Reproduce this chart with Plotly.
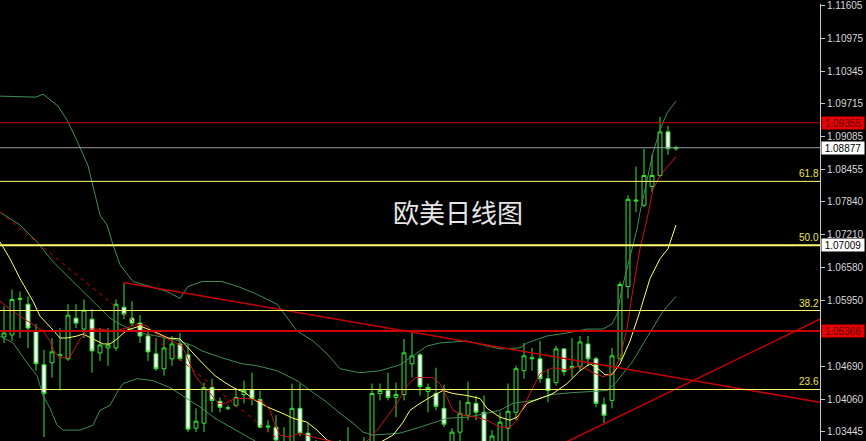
import plotly.graph_objects as go

# ---------------- data ----------------
bars = list(range(85))
opens = [1.05252, 1.05290, 1.05972, 1.05879, 1.05366, 1.04720, 1.04758, 1.04891, 1.04834, 1.05613,
         1.05404, 1.05594, 1.04948, 1.05043, 1.05043, 1.05822, 1.05613, 1.05518, 1.05271, 1.04929,
         1.04644, 1.04834, 1.05119, 1.04910, 1.03506, 1.03601, 1.04283, 1.04019, 1.03886, 1.03943,
         1.04150, 1.04245, 1.04055, 1.03525, 1.03525, 1.03240, 1.03183, 1.03886, 1.03411, 1.03088,
         1.02898, 1.02993, 1.03088, 1.03126, 1.03050, 1.03145, 1.03088, 1.04169, 1.04226, 1.04093,
         1.04150, 1.04739, 1.04910, 1.04207, 1.04169, 1.03886, 1.03183, 1.03430, 1.03753, 1.03981,
         1.03810, 1.03088, 1.03183, 1.03506, 1.03810, 1.04606, 1.04834, 1.04834, 1.04454, 1.04378,
         1.05024, 1.04663, 1.04682, 1.05119, 1.04834, 1.03962, 1.04038, 1.04834, 1.06219, 1.07853,
         1.07777, 1.08136, 1.08345, 1.09181, 1.08858]
highs = [1.05841, 1.06162, 1.06124, 1.06029, 1.05499, 1.05005, 1.05233, 1.05423, 1.05879, 1.05879,
         1.05972, 1.05784, 1.05423, 1.05423, 1.05972, 1.06276, 1.05936, 1.05670, 1.05366, 1.05233,
         1.05233, 1.05271, 1.05328, 1.05119, 1.03886, 1.04378, 1.04454, 1.04093, 1.03943, 1.04264,
         1.04416, 1.04568, 1.04226, 1.03658, 1.03753, 1.03525, 1.04359, 1.04359, 1.03601, 1.03278,
         1.03183, 1.03240, 1.03278, 1.03525, 1.03259, 1.03335, 1.04359, 1.04359, 1.04568, 1.04378,
         1.05214, 1.05328, 1.04948, 1.04359, 1.04663, 1.04340, 1.03506, 1.04038, 1.04397, 1.04131,
         1.04131, 1.03468, 1.03810, 1.04359, 1.04701, 1.05138, 1.05043, 1.05176, 1.04644, 1.05081,
         1.05043, 1.05233, 1.05271, 1.05271, 1.04872, 1.04093, 1.05043, 1.06314, 1.07965, 1.08516,
         1.08858, 1.08744, 1.09466, 1.09295, 1.08915]
lows = [1.05138, 1.05176, 1.05233, 1.05043, 1.04606, 1.03335, 1.04473, 1.04226, 1.04796, 1.05423,
        1.05233, 1.04568, 1.04796, 1.04701, 1.04986, 1.05594, 1.05461, 1.05138, 1.04796, 1.04606,
        1.04511, 1.04701, 1.04796, 1.03430, 1.03430, 1.03430, 1.03810, 1.03810, 1.03848, 1.03905,
        1.03981, 1.03943, 1.03506, 1.03430, 1.03183, 1.02898, 1.03088, 1.03354, 1.02993, 1.02803,
        1.02746, 1.02860, 1.02936, 1.02898, 1.02936, 1.02974, 1.02993, 1.04038, 1.04038, 1.03715,
        1.04038, 1.04473, 1.04131, 1.03810, 1.03848, 1.03525, 1.02993, 1.03259, 1.03658, 1.03658,
        1.03088, 1.02993, 1.03088, 1.03259, 1.03658, 1.04454, 1.04606, 1.04378, 1.04000, 1.04321,
        1.04511, 1.04473, 1.04606, 1.04701, 1.03905, 1.03601, 1.03886, 1.04796, 1.05991, 1.07644,
        1.07739, 1.08022, 1.08307, 1.08744, 1.08820]
closes = [1.05328, 1.05972, 1.05991, 1.05423, 1.04739, 1.04169, 1.04967, 1.04910, 1.05670, 1.05518,
          1.05765, 1.04986, 1.05100, 1.05100, 1.05879, 1.05689, 1.05518, 1.05271, 1.04967, 1.04644,
          1.05043, 1.05119, 1.04834, 1.03487, 1.03639, 1.04283, 1.04038, 1.03905, 1.03895, 1.04093,
          1.04226, 1.04074, 1.03525, 1.03544, 1.03278, 1.02993, 1.03886, 1.03411, 1.03126, 1.02898,
          1.02993, 1.03088, 1.03183, 1.03050, 1.03145, 1.03088, 1.04169, 1.04226, 1.04093, 1.04150,
          1.04948, 1.04891, 1.04302, 1.04283, 1.03924, 1.03582, 1.03430, 1.03791, 1.04000, 1.03810,
          1.03183, 1.03354, 1.03620, 1.03829, 1.04644, 1.04891, 1.04853, 1.04454, 1.04226, 1.05024,
          1.04587, 1.04682, 1.05157, 1.04834, 1.03981, 1.03753, 1.04891, 1.06257, 1.07889, 1.07872,
          1.08345, 1.08345, 1.09181, 1.08858, 1.08877]

# Bollinger bands (upper / middle / lower)
bb_up_x = [-0.5, 4, 4.88, 6.75, 7.88, 9.13, 10.5, 11.13, 12, 12.88, 13.63, 14.5, 16.13, 18.25, 20.38,
           22, 23, 24.75, 27.25, 29.25, 31.38, 34.13, 36.63, 38.63, 40.38, 42, 44.5, 47, 49.5, 51.13,
           52.88, 54.5, 57.88, 60.38, 62, 64.5, 65.38, 67.88, 70.38, 72.88, 74.88, 76, 76.63, 77.25,
           77.88, 78.5, 79.13, 79.5, 80.38, 81.13, 82, 82.88, 84]
bb_up_y = [1.09865, 1.09846, 1.09903, 1.09675, 1.09409, 1.09010, 1.08535, 1.08155, 1.07587, 1.07397,
           1.07017, 1.06637, 1.06314, 1.06219, 1.06124, 1.05991, 1.06219, 1.06314, 1.06314, 1.06219,
           1.06086, 1.05879, 1.05366, 1.05176, 1.04929, 1.04644, 1.04568, 1.04606, 1.04720, 1.04891,
           1.05081, 1.05138, 1.05176, 1.05081, 1.05024, 1.05043, 1.05138, 1.05271, 1.05328, 1.05404,
           1.05404, 1.05499, 1.05689, 1.06181, 1.06561, 1.06941, 1.07321, 1.07644, 1.08269, 1.08782,
           1.09219, 1.09542, 1.09770]
bb_mid_x = [-0.5, 2, 4.13, 6.13, 8, 9.88, 12, 13.25, 14.25, 15.75, 17, 19.13, 22, 23.63, 24.75,
            27.25, 29.75, 31.63, 34.13, 36.63, 38.63, 40.38, 42, 43.63, 44.88, 46.13, 49.5, 52,
            55.38, 57.88, 60.38, 62, 63.63, 66.13, 68.63, 71.13, 73.63, 75.38, 76.38, 77.38, 78.63,
            79.88, 81.13, 82.38, 84]
bb_mid_y = [1.07644, 1.07397, 1.07074, 1.06694, 1.06409, 1.06124, 1.05784, 1.05613, 1.05518, 1.05404,
            1.05328, 1.05271, 1.05176, 1.05081, 1.04986, 1.04853, 1.04739, 1.04701, 1.04606, 1.04416,
            1.04188, 1.04000, 1.03791, 1.03601, 1.03430, 1.03373, 1.03411, 1.03525, 1.03696, 1.03715,
            1.03791, 1.03848, 1.03981, 1.04038, 1.04152, 1.04188, 1.04209, 1.04228, 1.04359, 1.04549,
            1.04796, 1.05119, 1.05423, 1.05746, 1.06029]
bb_low_x = [-0.5, 1.13, 2.88, 4.13, 4.88, 5.75, 6.63, 7.38, 9.5, 11.13, 12, 13.25, 14.13, 14.88,
            16.63, 18.63, 20.75, 22.88, 24.75, 26.38, 28.5, 30.5, 32.25, 34.5]
bb_low_y = [1.05271, 1.05138, 1.04758, 1.04511, 1.04131, 1.03886, 1.03563, 1.03468, 1.03468, 1.03563,
            1.03848, 1.03943, 1.04188, 1.04359, 1.04454, 1.04416, 1.04283, 1.04074, 1.03886, 1.03696,
            1.03506, 1.03335, 1.03183, 1.02993]

# fast moving average (red)
ma_fast_x = [-0.5, 0.75, 2, 3.63, 4.88, 5.75, 6.38, 7.25, 8.25, 9.5, 10.75, 12, 13.63, 15.38, 16.63,
             17.88, 18.88, 20.5, 22.25, 23, 23.88, 24.88, 26, 26.75, 27.63, 28.88, 30.5, 32.25,
             33.25, 33.88, 34.5, 35.75, 37, 38.63, 40.75, 43.88, 45.38, 46.63, 47.88, 49.13, 50.38,
             51.38, 53.63, 54.5, 55.38, 56.13, 57.38, 59.13, 60.38, 62, 63.25, 64.13, 64.88, 66.13,
             67, 68.63, 70.38, 72, 73.63, 74.88, 76, 77, 77.88, 78.63, 79.5, 80.38, 81.13, 82, 82.88, 84]
ma_fast_y = [1.05936, 1.05784, 1.05651, 1.05499, 1.05366, 1.05176, 1.04948, 1.04853, 1.04872, 1.05214,
             1.05404, 1.05404, 1.05366, 1.05423, 1.05499, 1.05461, 1.05328, 1.05214, 1.05081, 1.04834,
             1.04511, 1.04321, 1.04131, 1.03981, 1.03981, 1.04076, 1.04076, 1.04019, 1.03848, 1.03563,
             1.03373, 1.03335, 1.03411, 1.03335, 1.03259, 1.03183, 1.03259, 1.03468, 1.03715, 1.03981,
             1.04321, 1.04473, 1.04473, 1.04359, 1.04093, 1.03848, 1.03753, 1.03715, 1.03658, 1.03525,
             1.03525, 1.03658, 1.03905, 1.04283, 1.04549, 1.04663, 1.04625, 1.04701, 1.04568, 1.04492,
             1.04549, 1.04853, 1.05423, 1.06181, 1.06941, 1.07511, 1.08079, 1.08345, 1.08497, 1.08706]

# slow moving average (yellow)
ma_slow_x = [-0.5, 0.75, 2, 2.88, 3.63, 4.5, 5.38, 6.13, 7, 7.88, 9.13, 9.88, 11.13, 12.38, 13.25,
             14.13, 15.38, 17, 18.63, 20.5, 22, 23, 24.75, 26.38, 27.63, 28.88, 30.13, 31.38, 33,
             34.5, 36.13, 37.88, 39.13, 40.38, 42, 45.75, 48.63, 49.88, 50.75, 52, 53.63, 54.88,
             56.13, 57.88, 59.5, 60.38, 62, 63.25, 64.13, 65.38, 67, 68.63, 70.38, 72, 73.25, 74.25,
             75.13, 76, 77, 78.25, 79.5, 80.75, 82, 83, 84]
ma_slow_y = [1.07074, 1.06751, 1.06371, 1.06124, 1.05936, 1.05651, 1.05518, 1.05385, 1.05233, 1.05233,
             1.05271, 1.05309, 1.05214, 1.05119, 1.05119, 1.05214, 1.05385, 1.05461, 1.05366, 1.05233,
             1.05214, 1.05043, 1.04758, 1.04511, 1.04378, 1.04264, 1.04188, 1.04038, 1.03905, 1.03810,
             1.03696, 1.03620, 1.03468, 1.03278, 1.03183, 1.03126, 1.03373, 1.03620, 1.03848, 1.03981,
             1.04131, 1.04226, 1.04169, 1.04131, 1.04074, 1.03886, 1.03715, 1.03658, 1.03715, 1.03981,
             1.04074, 1.04169, 1.04359, 1.04606, 1.04739, 1.04644, 1.04530, 1.04530, 1.04739, 1.05176,
             1.05746, 1.06371, 1.06751, 1.06941, 1.07397]

# trend lines (two end points each)
trend_down_x = [14.88, 102.0]
trend_down_y = [1.06296, 1.04000]
trend_up_x = [69.5, 102.0]
trend_up_y = [1.03183, 1.05594]
trend_dash_x = [-0.5, 34.5]
trend_dash_y = [1.07644, 1.03260]

# horizontal levels
red_levels = [1.09355, 1.05366]
grey_level = 1.08877
fib_labels = ["61.8", "50.0", "38.2", "23.6"]
fib_prices = [1.08233, 1.07009, 1.05759, 1.04247]
price_tag_text = ["1.09355", "1.08877", "1.07009", "1.05366"]
price_tag_vals = [1.09355, 1.08877, 1.07009, 1.05366]
price_tag_kind = ["red", "white", "white", "red"]

tick_vals = [1.11605, 1.10975, 1.10345, 1.09715, 1.09085, 1.08455, 1.07840, 1.07210,
             1.06580, 1.05950, 1.04690, 1.04060, 1.03445]
tick_text = ["1.11605", "1.10975", "1.10345", "1.09715", "1.09085", "1.08455", "1.07840",
             "1.07210", "1.06580", "1.05950", "1.04690", "1.04060", "1.03445"]
title_text = "欧美日线图"

# ---------------- styling ----------------
GREEN = "#33e633"
BB_COL = "#3f8f55"
RED_MA = "#d01010"
YEL_MA = "#ffff60"
RED_LINE = "#c80000"
YEL_LINE = "#ffff70"

fig = go.Figure()

fig.add_trace(go.Candlestick(
    x=bars, open=opens, high=highs, low=lows, close=closes,
    increasing=dict(line=dict(color=GREEN, width=1), fillcolor="#000000"),
    decreasing=dict(line=dict(color=GREEN, width=1), fillcolor="#ffffff"),
    whiskerwidth=0, showlegend=False, hoverinfo="skip"))

for xs, ys in [(bb_up_x, bb_up_y), (bb_mid_x, bb_mid_y), (bb_low_x, bb_low_y)]:
    fig.add_trace(go.Scatter(x=xs, y=ys, mode="lines", line=dict(color=BB_COL, width=1),
                             showlegend=False, hoverinfo="skip"))
fig.add_trace(go.Scatter(x=ma_slow_x, y=ma_slow_y, mode="lines",
                         line=dict(color=YEL_MA, width=1), showlegend=False, hoverinfo="skip"))
fig.add_trace(go.Scatter(x=ma_fast_x, y=ma_fast_y, mode="lines",
                         line=dict(color=RED_MA, width=1), showlegend=False, hoverinfo="skip"))

fig.add_trace(go.Scatter(x=trend_down_x, y=trend_down_y, mode="lines",
                         line=dict(color=RED_LINE, width=1.5), showlegend=False, hoverinfo="skip"))
fig.add_trace(go.Scatter(x=trend_up_x, y=trend_up_y, mode="lines",
                         line=dict(color=RED_LINE, width=1.5), showlegend=False, hoverinfo="skip"))
fig.add_trace(go.Scatter(x=trend_dash_x, y=trend_dash_y, mode="lines",
                         line=dict(color=RED_LINE, width=1, dash="4px,4px"),
                         showlegend=False, hoverinfo="skip"))

shapes = []
shapes.append(dict(type="line", xref="paper", x0=0, x1=1, yref="y", y0=red_levels[0], y1=red_levels[0],
                   line=dict(color=RED_LINE, width=1)))
shapes.append(dict(type="line", xref="paper", x0=0, x1=1, yref="y", y0=red_levels[1], y1=red_levels[1],
                   line=dict(color=RED_LINE, width=2)))
shapes.append(dict(type="line", xref="paper", x0=0, x1=1, yref="y", y0=grey_level, y1=grey_level,
                   line=dict(color="#9a9aa8", width=1)))
for lab, pr in zip(fib_labels, fib_prices):
    shapes.append(dict(type="line", xref="paper", x0=0, x1=1, yref="y", y0=pr, y1=pr,
                       line=dict(color=YEL_LINE, width=2 if lab == "50.0" else 1)))

annotations = []
for lab, pr in zip(fib_labels, fib_prices):
    annotations.append(dict(text=lab, xref="paper", x=1, xanchor="right", yref="y", y=pr,
                            yanchor="bottom", showarrow=False, borderpad=0, yshift=1,
                            font=dict(family="Liberation Sans", size=10, color="#e8e850")))
for txt, val, kind in zip(price_tag_text, price_tag_vals, price_tag_kind):
    if kind == "red":
        bg, fc = "#e60000", "#5a0000"
    else:
        bg, fc = "#ffffff", "#000000"
    annotations.append(dict(text=txt, xref="paper", x=1, xanchor="left", xshift=1,
                            yref="y", y=val, yanchor="middle", showarrow=False,
                            bgcolor=bg, borderpad=0, width=42, height=12, align="center",
                            font=dict(family="Liberation Sans", size=10, color=fc)))
annotations.append(dict(text=title_text, xref="paper", x=458 / 820, xanchor="center",
                        yref="paper", y=1 - 209 / 441, yanchor="middle", showarrow=False,
                        font=dict(family="Noto Sans CJK SC", size=26, color="#e6e6e6")))

fig.update_layout(
    width=866, height=441,
    margin=dict(l=0, r=46, t=0, b=0),
    paper_bgcolor="#000000", plot_bgcolor="#000000",
    shapes=shapes, annotations=annotations,
    showlegend=False,
    xaxis=dict(range=[-0.5, 102.0], visible=False, rangeslider=dict(visible=False),
               showgrid=False, zeroline=False, fixedrange=True),
    yaxis=dict(range=[1.03260, 1.11630], side="right", showgrid=False, zeroline=False,
               tickmode="array", tickvals=tick_vals, ticktext=tick_text,
               ticks="outside", ticklen=4, tickcolor="#c8c8c8", tickwidth=1,
               showline=True, linecolor="#c8c8c8", linewidth=1,
               ticklabeloverflow="allow",
               tickfont=dict(family="Liberation Sans", size=10, color="#d8d8d8")),
)

fig.write_html("out.html", config={"displayModeBar": False},
               post_script="document.body.style.margin='0';document.body.style.padding='0';"
                           "document.body.style.overflow='hidden';document.body.style.background='#000';")
